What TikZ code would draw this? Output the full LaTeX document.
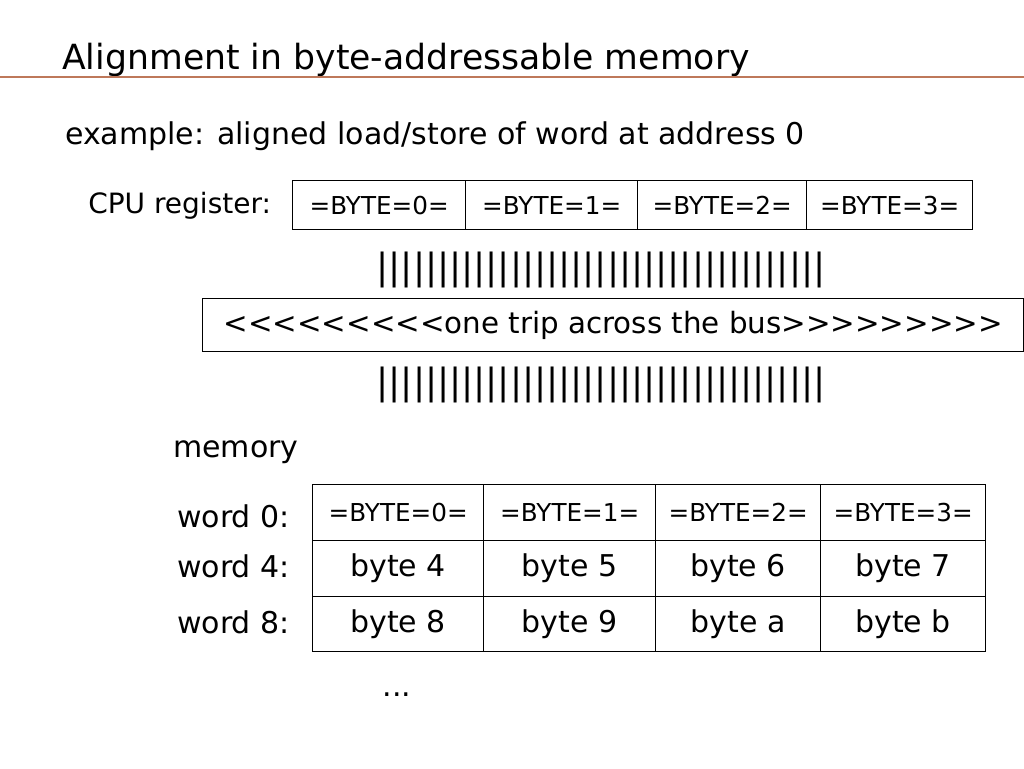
\documentclass[tikz,border=0pt]{standalone}
\usepackage{fontspec}
\setmainfont{DejaVu Sans}[Ligatures=TeXOff]
\begin{document}
\begin{tikzpicture}[x=0.75pt,y=-0.75pt,
  cell/.style={draw,line width=1pt,minimum height=49*0.75pt,inner sep=0pt,anchor=north west},
  lbl/.style={inner sep=0pt},
  small/.style={font=\fontsize{18.5}{22}\selectfont},
  big/.style={font=\fontsize{22.5}{27}\selectfont}]
\useasboundingbox (0,0) rectangle (1024,768);
\node[lbl,anchor=west,font=\fontsize{26}{31}\selectfont] (title) at (62,60) {Alignment in byte-addressable memory};
\draw[color={rgb,255:red,190;green,120;blue,90},line width=2pt] (0,77) -- (1024,77);
\node[lbl,anchor=west,big] (ex) at (65,136) {example: aligned load/store of word at address 0};
\node[lbl,anchor=west,font=\fontsize{21}{25}\selectfont] (cpu) at (88,206) {CPU register:};
\foreach \i/\a/\b in {0/292/465,1/465/637,2/637/806,3/806/972}{
  \node[cell,small,minimum width=(\b-\a)*0.75pt] (r\i) at (\a,180) {=BYTE=\i=};
}
\node[lbl,font=\fontsize{27}{32}\selectfont] (p1) at (601,270) {|||||||||||||||||||||||||||||||||||||};
\node[cell,minimum width=821*0.75pt,minimum height=53*0.75pt,font=\fontsize{22}{26}\selectfont] (bus) at (202,298) {<<<<<<<<<one trip across the bus>>>>>>>>>};
\node[lbl,font=\fontsize{27}{32}\selectfont] (p2) at (601,385) {|||||||||||||||||||||||||||||||||||||};
\node[lbl,anchor=west,big] (mem) at (173,452) {memory};
\foreach \r/\y/\w in {0/516/0,1/566/4,2/622/8}{
  \node[lbl,anchor=west,big] (w\r) at (177,\y) {word \w:};
}
\foreach \i/\a/\b in {0/312/483,1/483/655,2/655/820,3/820/985}{
  \node[cell,small,minimum width=(\b-\a)*0.75pt,minimum height=56*0.75pt] (m0\i) at (\a,484) {=BYTE=\i=};
}
\foreach \i/\a/\b/\t in {0/312/483/4,1/483/655/5,2/655/820/6,3/820/985/7}{
  \node[cell,big,minimum width=(\b-\a)*0.75pt,minimum height=56*0.75pt] (m1\i) at (\a,540) {byte \t};
}
\foreach \i/\a/\b/\t in {0/312/483/8,1/483/655/9,2/655/820/a,3/820/985/b}{
  \node[cell,big,minimum width=(\b-\a)*0.75pt,minimum height=55*0.75pt] (m2\i) at (\a,596) {byte \t};
}
\node[lbl,big] (dots) at (397,695) {...};
\end{tikzpicture}
\end{document}
